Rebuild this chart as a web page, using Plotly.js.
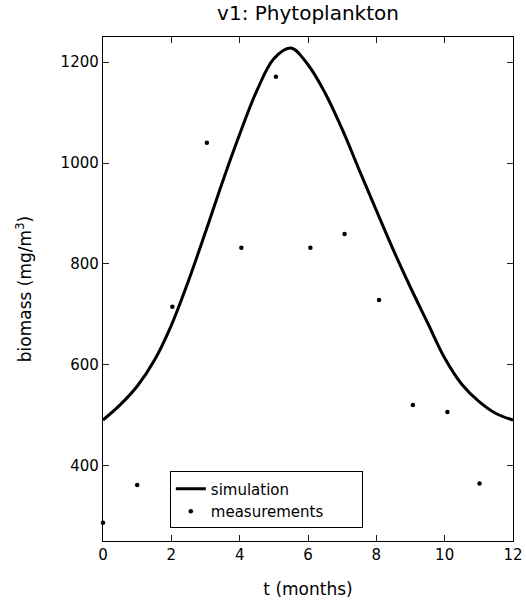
<!DOCTYPE html>
<html>
<head>
<meta charset="utf-8">
<script src="https://cdn.plot.ly/plotly-3.0.1.min.js"></script>
<style>html,body{margin:0;padding:0;background:#fff;}#chart{width:526px;height:605px;}</style>
</head>
<body>
<div id="chart"></div>
<script>
// simulation curve (every half month)
var simT = [0, 0.5, 1, 1.5, 2, 2.5, 3, 3.5, 4, 4.5, 5, 5.5, 6, 6.5, 7, 7.5, 8, 8.5, 9, 9.5, 10, 10.5, 11, 11.5, 12];
var simV = [490, 520, 557, 608, 678, 766, 863, 963, 1057, 1143, 1207, 1228, 1195, 1139, 1067, 986, 906, 827, 753, 683, 613, 561, 527, 503, 490];
// measurements
var measT = [0, 1.0, 2.03, 3.04, 4.05, 5.06, 6.07, 7.07, 8.08, 9.07, 10.08, 11.02];
var measV = [286, 361, 715, 1040, 832, 1171, 832, 859, 728, 520, 506, 364];
// axis ticks
var xTicks = [0, 2, 4, 6, 8, 10, 12];
var yTicks = [400, 600, 800, 1000, 1200];
// legend names
var names = ['simulation', 'measurements'];

var FONT = 'DejaVu Sans, Liberation Sans, Arial, sans-serif';
var PAD = '\u00a0\u00a0\u00a0\u00a0\u00a0\u00a0\u00a0';

var traces = [
  {x: simT, y: simV, type: 'scatter', mode: 'lines', name: names[0] + PAD,
   line: {color: '#000', width: 3, shape: 'spline', smoothing: 1}},
  {x: measT, y: measV, type: 'scatter', mode: 'markers', name: names[1] + PAD,
   marker: {color: '#000', size: 4.5}, cliponaxis: false}
];

var axisCommon = {
  showgrid: false, zeroline: false, showline: true, linecolor: '#000', linewidth: 1.2,
  mirror: 'ticks', ticks: 'inside', ticklen: 6, tickcolor: '#222', tickwidth: 1,
  tickfont: {family: FONT, size: 15, color: '#000'}
};

var layout = {
  width: 526, height: 605,
  margin: {l: 103, r: 13, t: 37, b: 64},
  paper_bgcolor: '#fff', plot_bgcolor: '#fff',
  font: {family: FONT, color: '#000'},
  showlegend: true,
  title: {text: 'v1: Phytoplankton', font: {family: FONT, size: 20, color: '#000'},
          x: 0.5, xref: 'paper', y: 0.99, yref: 'container', yanchor: 'top'},
  xaxis: Object.assign({}, axisCommon, {
    range: [0, 12], tickvals: xTicks, ticktext: xTicks.map(String),
    title: {text: 't (months)', font: {family: FONT, size: 17, color: '#000'}, standoff: 19}
  }),
  yaxis: Object.assign({}, axisCommon, {
    range: [250, 1250], tickvals: yTicks, ticktext: yTicks.map(String),
    title: {text: 'biomass (mg/m<sup>3</sup>)', font: {family: FONT, size: 17, color: '#000'}, standoff: 24}
  }),
  legend: {
    x: 0.163, y: 0.138, xanchor: 'left', yanchor: 'top',
    bgcolor: '#fff', bordercolor: '#000', borderwidth: 1,
    font: {family: FONT, size: 15, color: '#000'},
    tracegroupgap: 0, itemwidth: 30
  }
};

Plotly.newPlot('chart', traces, layout, {displayModeBar: false, staticPlot: true});
</script>
</body>
</html>
